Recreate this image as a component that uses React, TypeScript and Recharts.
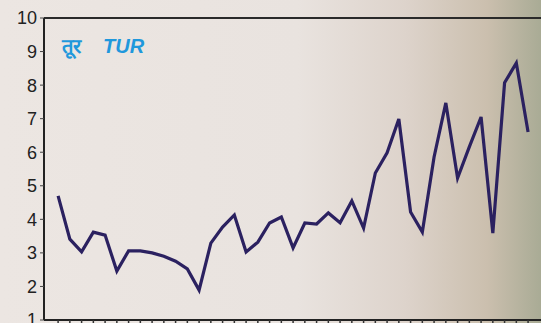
import { LineChart, Line, XAxis, YAxis, ReferenceLine } from "recharts";

// monthly price index readings left to right
const PRICES = [
  4.7, 3.41, 3.03, 3.62, 3.53, 2.46, 3.06, 3.06, 3.0, 2.9, 2.75, 2.52, 1.89,
  3.29, 3.77, 4.13, 3.03, 3.32, 3.89, 4.07, 3.15, 3.89, 3.86, 4.19, 3.9, 4.55,
  3.74, 5.38, 5.98, 6.99, 4.22, 3.62, 5.86, 7.47, 5.23, 6.16, 7.05, 3.59, 8.07,
  8.66, 6.6,
];
const Y_TICKS = [1, 2, 3, 4, 5, 6, 7, 8, 9, 10];
const TITLE_HI = "तूर";
const TITLE_EN = "TUR";

const rows = PRICES.map((v, i) => ({ idx: i, tur: v }));
const X_TICKS = PRICES.map((_, i) => i);

export default function App() {
  return (
    <div
      style={{
        position: "fixed",
        left: 0,
        top: 0,
        width: 541,
        height: 323,
        overflow: "hidden",
        background:
          "linear-gradient(90deg, #ece6e2 0%, #e9e3df 55%, #ddd3cb 75%, #cbbfae 90%, #a9ab95 100%)",
      }}
    >
      <LineChart
        width={541}
        height={323}
        data={rows}
        margin={{ top: 18, right: 0, bottom: 0, left: 0 }}
      >
        <XAxis
          dataKey="idx"
          type="number"
          domain={[-1.2, 41.1]}
          ticks={X_TICKS}
          interval={0}
          tickFormatter={() => ""}
          tickSize={3}
          height={3}
          axisLine={{ stroke: "#222", strokeWidth: 2 }}
          tickLine={{ stroke: "#333", strokeWidth: 1.5 }}
        />
        <YAxis
          domain={[1, 10]}
          ticks={Y_TICKS}
          interval={0}
          width={44}
          tickSize={4}
          tickMargin={3}
          axisLine={{ stroke: "#222", strokeWidth: 2 }}
          tickLine={{ stroke: "#444" }}
          tick={{
            fill: "#222",
            fontSize: 18,
            fontFamily: "Liberation Sans, Arial, sans-serif",
          }}
          allowDataOverflow
        />
        <ReferenceLine y={10} stroke="#2a2a2a" strokeWidth={2} />
        <Line
          dataKey="tur"
          type="linear"
          stroke="#2b2160"
          strokeWidth={3.2}
          dot={false}
          isAnimationActive={false}
        />
      </LineChart>
      <div
        style={{
          position: "absolute",
          left: 62,
          top: 32,
          color: "#1f98dc",
          fontFamily: "Liberation Sans, Arial, sans-serif",
          fontSize: 20,
          whiteSpace: "nowrap",
        }}
      >
        <span style={{ fontWeight: 700 }}>{TITLE_HI}</span>
        <span
          style={{ fontWeight: 700, fontStyle: "italic", marginLeft: 22 }}
        >
          {TITLE_EN}
        </span>
      </div>
    </div>
  );
}
